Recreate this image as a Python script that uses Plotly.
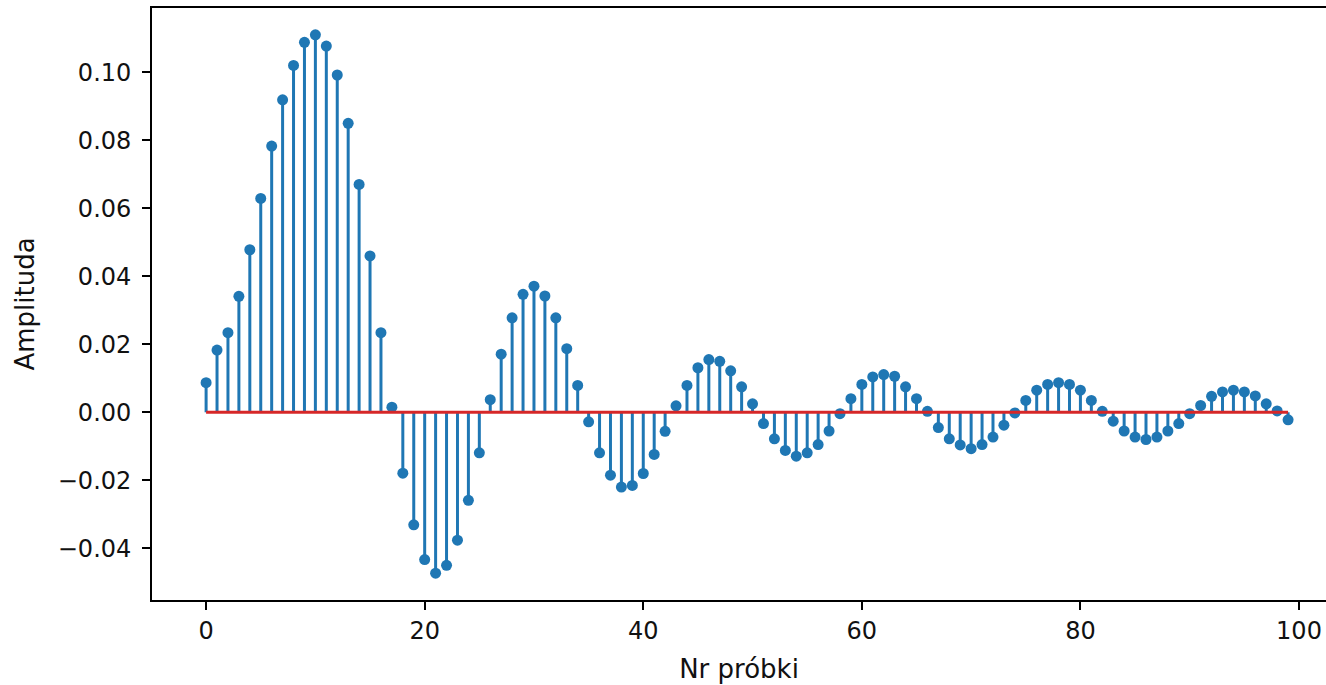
import plotly.graph_objects as go

sample_index = list(range(100))
amplitude = [
    0.0087, 0.0183, 0.0234, 0.0341, 0.0478, 0.0629, 0.0783, 0.0919, 0.1020, 0.1088,
    0.1110, 0.1077, 0.0992, 0.0850, 0.0670, 0.0460, 0.0234, 0.0015, -0.0179, -0.0331,
    -0.0433, -0.0473, -0.0450, -0.0376, -0.0259, -0.0119, 0.0037, 0.0171, 0.0278, 0.0347,
    0.0371, 0.0342, 0.0278, 0.0187, 0.0079, -0.0028, -0.0119, -0.0185, -0.0220, -0.0215,
    -0.0180, -0.0124, -0.0056, 0.0019, 0.0079, 0.0131, 0.0155, 0.0150, 0.0122, 0.0075,
    0.0025, -0.0033, -0.0078, -0.0112, -0.0129, -0.0119, -0.0095, -0.0055, -0.0004, 0.0040,
    0.0082, 0.0104, 0.0111, 0.0106, 0.0075, 0.0040, 0.0003, -0.0045, -0.0078, -0.0096,
    -0.0107, -0.0095, -0.0073, -0.0038, -0.0002, 0.0035, 0.0065, 0.0082, 0.0087, 0.0082,
    0.0065, 0.0035, 0.0003, -0.0026, -0.0055, -0.0073, -0.0080, -0.0073, -0.0055, -0.0033,
    -0.0004, 0.0020, 0.0047, 0.0060, 0.0065, 0.0060, 0.0048, 0.0025, 0.0004, -0.0022,
]
x_ticks = [0, 20, 40, 60, 80, 100]
y_ticks = [-0.04, -0.02, 0.00, 0.02, 0.04, 0.06, 0.08, 0.10]
y_ticktext = [("\u2212" if v < 0 else "") + f"{abs(v):.2f}" for v in y_ticks]

BLUE = "#1f77b4"
RED = "#d62728"
TXT = "#111111"

stem_x, stem_y = [], []
for xi, yi in zip(sample_index, amplitude):
    stem_x += [xi, xi, None]
    stem_y += [0, yi, None]

fig = go.Figure()
fig.add_trace(go.Scatter(x=stem_x, y=stem_y, mode="lines",
                         line=dict(color=BLUE, width=3), hoverinfo="skip", showlegend=False))
fig.add_trace(go.Scatter(x=sample_index, y=amplitude, mode="markers",
                         marker=dict(color=BLUE, size=11), showlegend=False))
fig.add_trace(go.Scatter(x=[sample_index[0], sample_index[-1]], y=[0, 0], mode="lines",
                         line=dict(color=RED, width=3), showlegend=False))

axis_common = dict(showgrid=False, zeroline=False, showline=True, linecolor="black", linewidth=1.8,
                   ticks="outside", ticklen=8, tickwidth=1.8, tickcolor="black",
                   ticklabeloverflow="allow",
                   tickfont=dict(family="DejaVu Sans", size=24, color=TXT))

fig.update_xaxes(range=[-4.95, 102.47], tickvals=x_ticks, mirror=True,
                 title=dict(text="Nr próbki", font=dict(family="DejaVu Sans", size=26, color=TXT), standoff=16),
                 **axis_common)
fig.update_yaxes(range=[-0.0552, 0.1189], tickvals=y_ticks, ticktext=y_ticktext,
                 ticklabelstandoff=6,
                 title=dict(text="Amplituda", font=dict(family="DejaVu Sans", size=26, color=TXT), standoff=16),
                 **axis_common)

fig.update_layout(width=1326, height=685, margin=dict(l=152, r=0, t=8, b=85),
                  plot_bgcolor="white", paper_bgcolor="white")

# remove the default page margin and scrollbars so the figure fills the window exactly
fig.write_html("out.html",
               config={"displayModeBar": False},
               post_script="document.body.style.margin='0';document.body.style.overflow='hidden';"
                           "document.documentElement.style.overflow='hidden';")
